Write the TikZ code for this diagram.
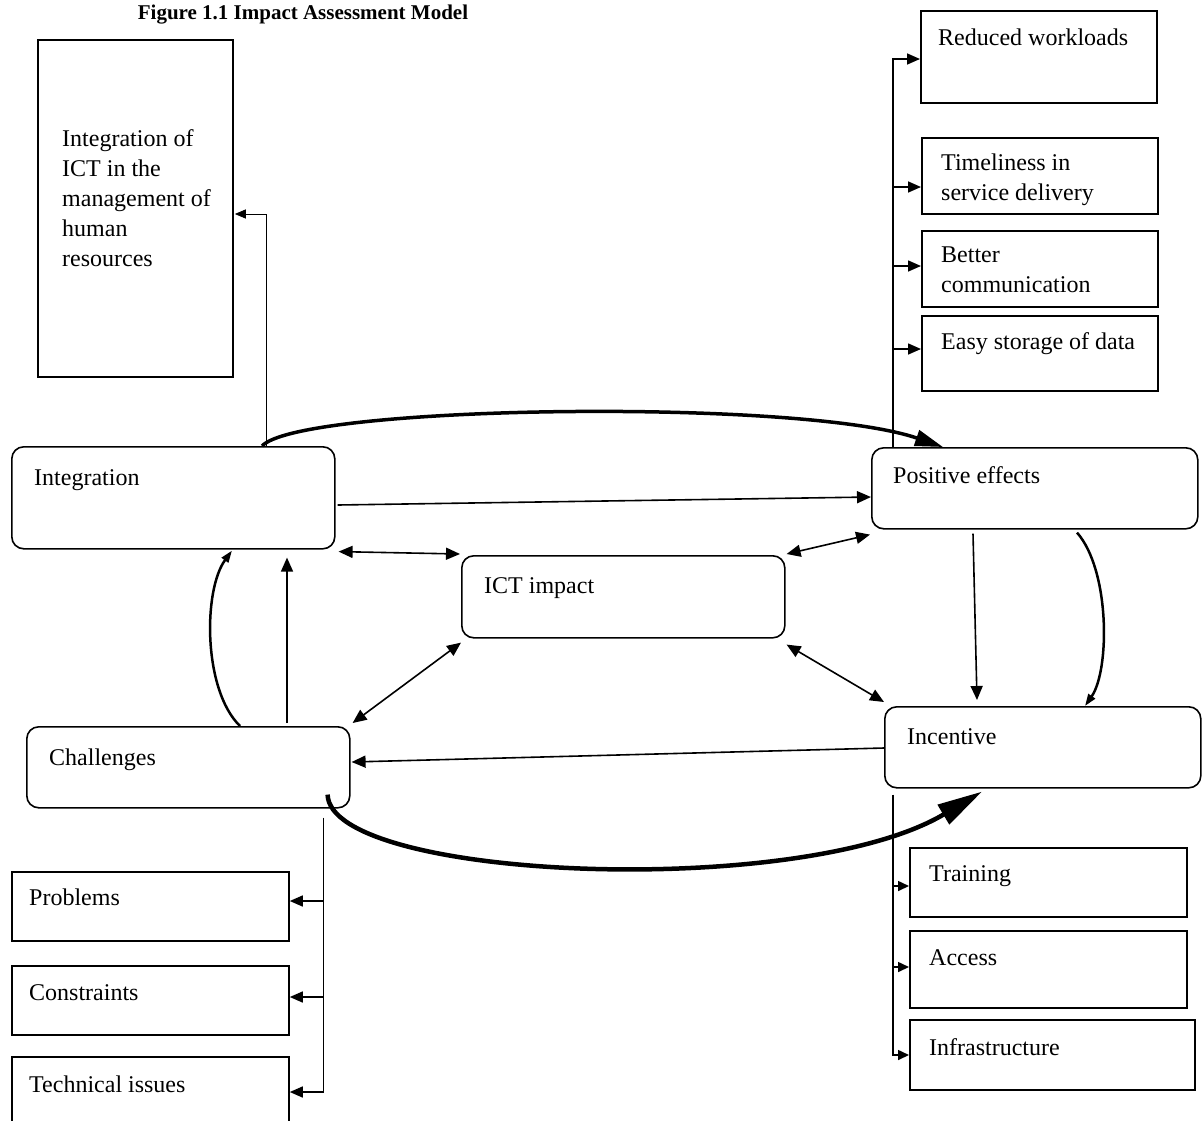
\documentclass[tikz,border=0pt]{standalone}
\usepackage{fontspec}
\setmainfont{Liberation Serif}
\usetikzlibrary{arrows.meta,calc}
\begin{document}
\begin{tikzpicture}[x=1pt,y=-1pt,
  sbox/.style={draw, line width=1.8pt, anchor=north west, inner sep=0pt, rectangle},
  rbox/.style={sbox, rounded corners=12pt, line width=1.6pt},
  lbl/.style={anchor=base west, inner sep=0pt, align=left, font=\fontsize{24}{30}\selectfont},
  conn/.style={line width=1.6pt, -{Triangle[length=14pt,width=12pt]}},
  dconn/.style={line width=1.6pt, {Triangle[length=14pt,width=12pt]}-{Triangle[length=14pt,width=12pt]}},
  brconn/.style={line width=1.6pt, -{Triangle[length=13pt,width=11pt]}},
  smconn/.style={line width=1.6pt, -{Triangle[length=11pt,width=10pt]}},
  bigcurve/.style={line width=3.5pt, -{Triangle[length=28pt,width=16pt]}},
  hugecurve/.style={line width=4.5pt, -{Triangle[length=45pt,width=22pt]}},
  sidecurve/.style={line width=2.5pt, -{Triangle[length=12pt,width=8pt]}}
]
\useasboundingbox (0,0) rectangle (1202,1120);
\fill[white] (0,0) rectangle (1202,1120);

% title
\node[anchor=base, inner sep=0pt, font=\bfseries\fontsize{21}{25}\selectfont] (title) at (303,19) {Figure 1.1 Impact Assessment Model};

% boxes
\node[sbox, minimum width=195pt, minimum height=337pt] (ictm) at (37,39) {};
\node[rbox, minimum width=323pt, minimum height=102pt] (integ) at (11,446) {};
\node[rbox, minimum width=326pt, minimum height=81pt] (pe) at (871,447) {};
\node[rbox, minimum width=323pt, minimum height=82pt] (ict) at (461,555) {};
\node[rbox, minimum width=316pt, minimum height=81pt] (inc) at (884,706) {};
\node[rbox, minimum width=323pt, minimum height=81pt] (chal) at (26,726) {};

\node[sbox, minimum width=236pt, minimum height=92pt] (rw) at (920,10) {};
\node[sbox, minimum width=236pt, minimum height=76pt] (tl) at (921,137) {};
\node[sbox, minimum width=236pt, minimum height=76pt] (bc) at (921,230) {};
\node[sbox, minimum width=236pt, minimum height=75pt] (es) at (921,315) {};

\node[sbox, minimum width=277pt, minimum height=69pt] (prob) at (11,871) {};
\node[sbox, minimum width=277pt, minimum height=69pt] (cons) at (11,965) {};
\node[sbox, minimum width=277pt, minimum height=90pt] (tech) at (11,1056) {};

\node[sbox, minimum width=277pt, minimum height=69pt] (train) at (909,847) {};
\node[sbox, minimum width=277pt, minimum height=77pt] (acc) at (909,930) {};
\node[sbox, minimum width=285pt, minimum height=70pt] (infra) at (909,1019) {};

% labels (multi-line: base = last line)
\node[lbl] (ictm-t) at (62,266) {Integration of\\ICT in the\\management of\\human\\resources};
\node[lbl] (integ-t) at (34,485) {Integration};
\node[lbl] (pe-t) at (893,483) {Positive effects};
\node[lbl] (ict-t) at (484,593) {ICT impact};
\node[lbl] (inc-t) at (907,744) {Incentive};
\node[lbl] (chal-t) at (49,765) {Challenges};
\node[lbl] (rw-t) at (938,45) {Reduced workloads};
\node[lbl] (tl-t) at (941,200) {Timeliness in\\service delivery};
\node[lbl] (bc-t) at (941,292) {Better\\communication};
\node[lbl] (es-t) at (941,349) {Easy storage of data};
\node[lbl] (prob-t) at (29,905) {Problems};
\node[lbl] (cons-t) at (29,1000) {Constraints};
\node[lbl] (tech-t) at (29,1092) {Technical issues};
\node[lbl] (train-t) at (929,881) {Training};
\node[lbl] (acc-t) at (929,965) {Access};
\node[lbl] (infra-t) at (929,1055) {Infrastructure};

% connector: Integration -> Integration of ICT box
\draw[line width=1pt, -{Triangle[length=11pt,width=9pt]}] ($(integ.north west)+(255,0)$) |- ($(ictm.north east)+(1,175)$);

% big top curve
\draw[bigcurve] ($(integ.north west)+(251,0)$) .. controls (300,405) and (800,398) .. ($(pe.north west)+(72,0)$);

% straight Integration -> Positive effects
\draw[conn] ($(integ.north east)+(2,59)$) -- ($(pe.north west)+(0,50)$);

% double arrows
\draw[dconn] ($(integ.south east)+(3,2)$) -- ($(ict.north west)+(-1,-1)$);
\draw[dconn] ($(ict.north east)+(1,-1)$) -- ($(pe.south west)+(-1,5)$);
\draw[dconn] ($(ict.south west)+(0,4)$) -- ($(chal.north east)+(2,-3)$);
\draw[dconn] ($(ict.south east)+(1,6)$) -- ($(inc.north west)+(0,-4)$);

% Positive effects -> Incentive
\draw[conn] ($(pe.south west)+(102,4)$) -- ($(inc.north west)+(93,-6)$);
% right curve
\draw[sidecurve] ($(pe.south west)+(206,3)$) .. controls (1110,570) and (1110,670) .. ($(inc.north west)+(201,0)$);

% left curve Challenges -> Integration
\draw[sidecurve] ($(chal.north west)+(214,0)$) .. controls (203,690) and (203,590) .. ($(integ.south west)+(221,1)$);
% straight Challenges -> Integration
\draw[conn] ($(chal.north west)+(261,-3)$) -- ($(integ.south west)+(276,8)$);

% Incentive -> Challenges
\draw[conn] ($(inc.north west)+(0,42)$) -- ($(chal.north east)+(1,36)$);

% big bottom curve Challenges -> Incentive
\draw[hugecurve] ($(chal.south east)+(-23,-14)$) .. controls (330,880) and (800,900) .. ($(inc.south west)+(98,3)$);

% Challenges branch
\coordinate (cb) at ($(chal.south east)+(-27,9)$);
\coordinate (pt) at ($(prob.north east)+(0,30)$);
\coordinate (ct) at ($(cons.north east)+(0,32)$);
\coordinate (tt) at ($(tech.north east)+(0,36)$);
\draw[brconn] (cb) |- (tt);
\draw[brconn] (cb |- pt) -- (pt);
\draw[brconn] (cb |- ct) -- (ct);

% Positive effects branch
\coordinate (rt) at ($(pe.north west)+(22,0)$);
\coordinate (rwt) at ($(rw.north west)+(0,49)$);
\coordinate (tlt) at ($(tl.north west)+(0,50)$);
\coordinate (bct) at ($(bc.north west)+(0,36)$);
\coordinate (est) at ($(es.north west)+(0,34)$);
\draw[brconn] (rt) |- (rwt);
\draw[brconn] (rt |- tlt) -- (tlt);
\draw[brconn] (rt |- bct) -- (bct);
\draw[brconn] (rt |- est) -- (est);

% Incentive branch
\coordinate (rb) at ($(inc.south west)+(9,6)$);
\coordinate (trt) at ($(train.north west)+(0,39)$);
\coordinate (act) at ($(acc.north west)+(0,37)$);
\coordinate (inft) at ($(infra.north west)+(0,36)$);
\draw[smconn] (rb) |- (inft);
\draw[smconn] (rb |- trt) -- (trt);
\draw[smconn] (rb |- act) -- (act);
\end{tikzpicture}
\end{document}
